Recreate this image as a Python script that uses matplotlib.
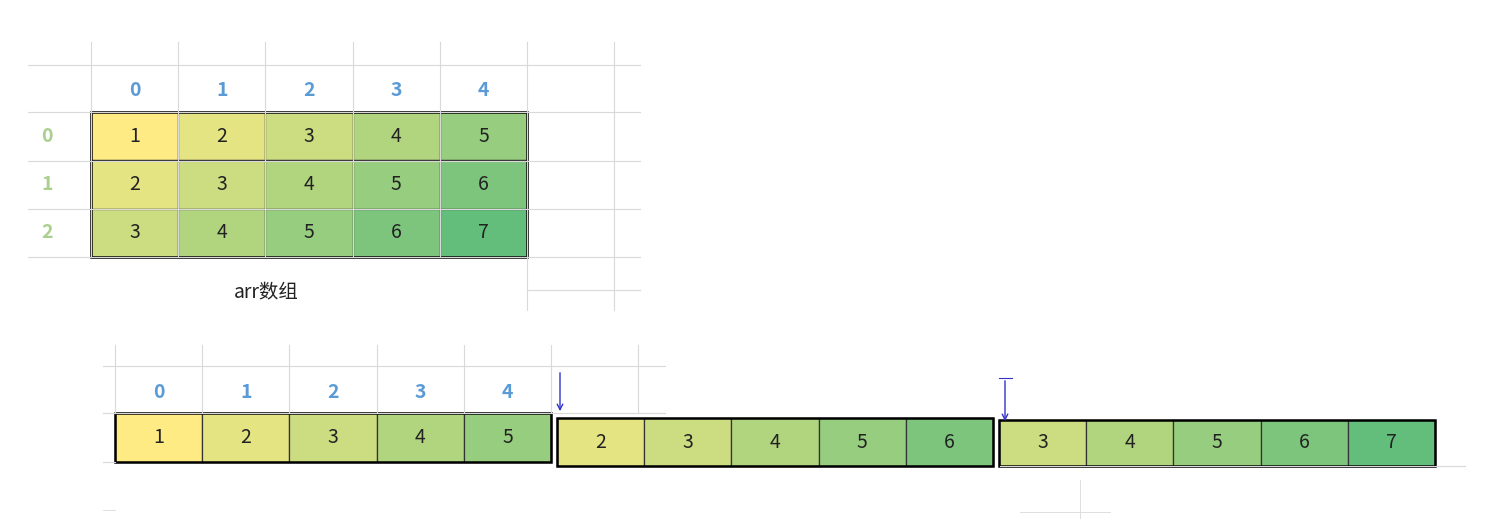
import matplotlib
matplotlib.use("Agg")
import matplotlib.pyplot as plt
from matplotlib.colors import LinearSegmentedColormap, Normalize
from matplotlib.patches import Rectangle

plt.rcParams['font.family'] = ['Noto Sans CJK SC', 'DejaVu Sans']

col_labels = ["0", "1", "2", "3", "4"]
row_labels = ["0", "1", "2"]
arr = [[1, 2, 3, 4, 5],
       [2, 3, 4, 5, 6],
       [3, 4, 5, 6, 7]]
caption = "arr数组"

cmap = LinearSegmentedColormap.from_list("yg", ["#FFEB84", "#63BE7B"])
norm = Normalize(1, 7)
GRID = "#D9D9D9"
BLUE = "#5B9BD5"
GREEN = "#A9D08E"

fig = plt.figure(figsize=(15.03, 5.19), dpi=100)
ax = fig.add_axes([0, 0, 1, 1])
ax.set_xlim(0, 1503); ax.set_ylim(519, 0); ax.axis("off")

def cells(x0, y0, w, h, vals):
    for j, v in enumerate(vals):
        ax.add_patch(Rectangle((x0 + j * w, y0), w, h, facecolor=cmap(norm(v)),
                               edgecolor="#333333", lw=0.9))
        ax.text(x0 + j * w + w / 2, y0 + h / 2, str(v), ha="center", va="center",
                fontsize=14, color="#222222")

# ---- top table ----
x0, y0, w, h = 91, 112, 87.2, 48.3
# gridlines
for yy in [65, 112, 161, 209, 257]:
    ax.plot([28, 640], [yy, yy], color=GRID, lw=0.8)
ax.plot([527, 640], [290, 290], color=GRID, lw=0.8)
for k in range(6):
    ax.plot([x0 + k * w] * 2, [42, 257], color=GRID, lw=0.8)
ax.plot([527, 527], [257, 310], color=GRID, lw=0.8)
ax.plot([614, 614], [42, 310], color=GRID, lw=0.8)
for j, c in enumerate(col_labels):
    ax.text(x0 + j * w + w / 2, 90, c, ha="center", va="center", fontsize=14,
            color=BLUE, fontweight="bold")
for i, r in enumerate(row_labels):
    ax.text(47, y0 + i * h + h / 2, r, ha="center", va="center", fontsize=14,
            color=GREEN, fontweight="bold")
for i, row in enumerate(arr):
    cells(x0, y0 + i * h, w, h, row)
ax.add_patch(Rectangle((x0, y0), 5 * w, 3 * h, fill=False, edgecolor="black", lw=1.8))
ax.text(266, 293, caption, ha="center", va="center", fontsize=14, color="#222222")

# ---- bottom flattened ----
bx, by, bh = 115, 413, 49
for yy in [366, 413]:
    ax.plot([103, 665], [yy, yy], color=GRID, lw=0.8)
for k in range(6):
    ax.plot([bx + k * w] * 2, [345, 413], color=GRID, lw=0.8)
ax.plot([638, 638], [345, 413], color=GRID, lw=0.8)
ax.plot([1000, 1465], [466, 466], color=GRID, lw=0.8)
ax.plot([1080, 1080], [480, 519], color=GRID, lw=0.6)
ax.plot([1020, 1110], [512, 512], color=GRID, lw=0.6)
ax.plot([103, 115], [462, 462], color=GRID, lw=0.8)
ax.plot([103, 115], [510, 510], color=GRID, lw=0.6)
for j, c in enumerate(col_labels):
    ax.text(bx + j * w + w / 2, 392, c, ha="center", va="center", fontsize=14,
            color=BLUE, fontweight="bold")
segs = [(115, 413, 49), (557, 418, 48), (999, 420, 46)]
for (sx, sy, sh), row in zip(segs, arr):
    cells(sx, sy, w, sh, row)
    ax.add_patch(Rectangle((sx, sy), 5 * w, sh, fill=False, edgecolor="black", lw=1.8))

for ax_x, y1, y2 in [(560, 370, 414), (1005, 378, 424)]:
    ax.annotate("", xy=(ax_x, y2), xytext=(ax_x, y1),
                arrowprops=dict(arrowstyle="->", color="#3333CC", lw=1.0))
ax.plot([999, 1012], [378, 378], color="#3333CC", lw=0.8)

fig.savefig("out.png", dpi=100)
